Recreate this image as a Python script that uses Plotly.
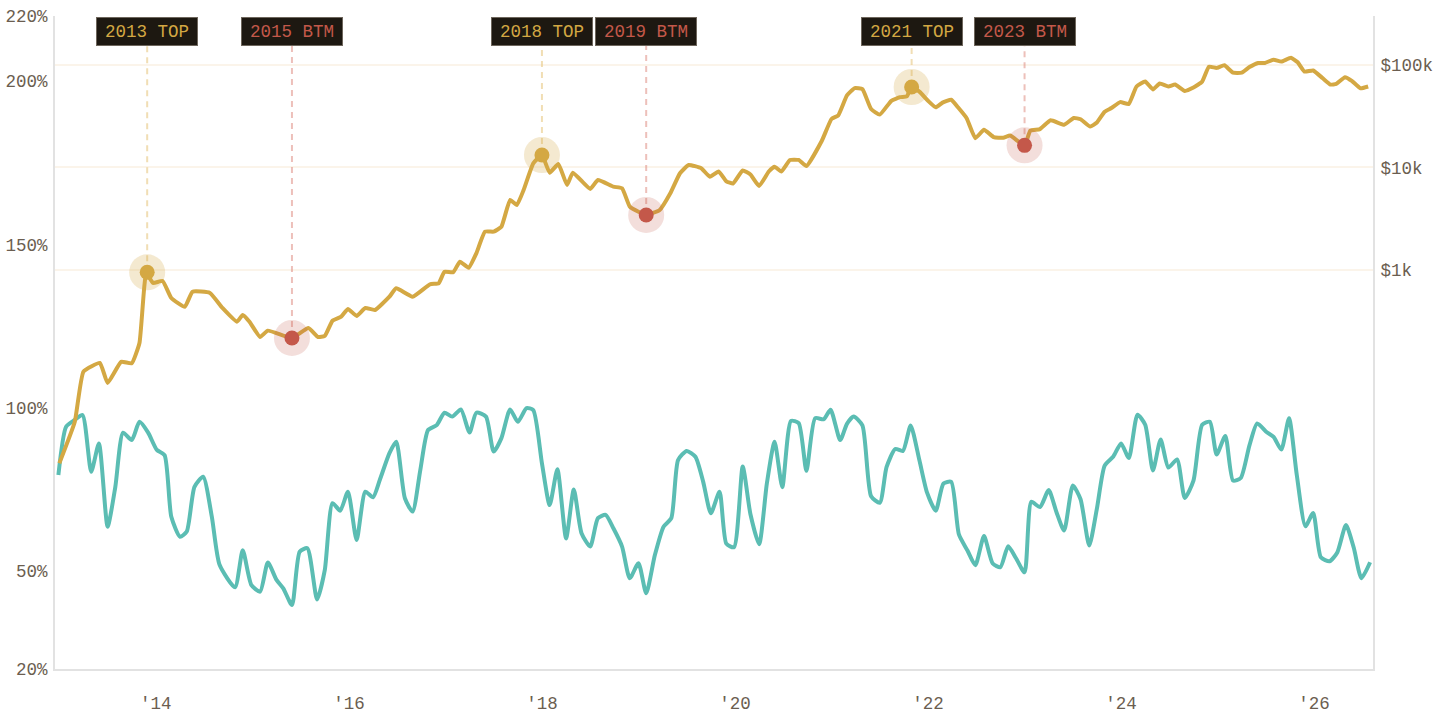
import plotly.graph_objects as go

# ---------------- data ----------------
price_t = [2013.00, 2013.16, 2013.25, 2013.42, 2013.50, 2013.64, 2013.75, 2013.83, 2013.90, 2013.97,
           2014.07, 2014.16, 2014.30, 2014.38, 2014.56, 2014.69, 2014.84, 2014.90, 2014.97, 2015.08,
           2015.16, 2015.41, 2015.58, 2015.68, 2015.75, 2015.83, 2015.92, 2015.99, 2016.08, 2016.17,
           2016.27, 2016.42, 2016.49, 2016.66, 2016.84, 2016.93, 2016.99, 2017.08, 2017.15, 2017.24,
           2017.32, 2017.41, 2017.50, 2017.58, 2017.67, 2017.74, 2017.81, 2017.91, 2018.00, 2018.08,
           2018.17, 2018.26, 2018.32, 2018.50, 2018.58, 2018.74, 2018.83, 2018.91, 2019.00, 2019.08,
           2019.22, 2019.33, 2019.43, 2019.52, 2019.65, 2019.74, 2019.83, 2019.91, 2019.98, 2020.08,
           2020.16, 2020.25, 2020.35, 2020.41, 2020.48, 2020.57, 2020.66, 2020.74, 2020.90, 2021.00,
           2021.07, 2021.16, 2021.24, 2021.32, 2021.41, 2021.50, 2021.62, 2021.71, 2021.78, 2021.83,
           2021.91, 2022.00, 2022.08, 2022.15, 2022.24, 2022.31, 2022.40, 2022.49, 2022.58, 2022.68,
           2022.78, 2022.85, 2023.00, 2023.06, 2023.16, 2023.27, 2023.41, 2023.51, 2023.58, 2023.68,
           2023.75, 2023.83, 2023.90, 2023.99, 2024.08, 2024.16, 2024.25, 2024.33, 2024.40, 2024.49,
           2024.56, 2024.66, 2024.75, 2024.84, 2024.91, 2024.99, 2025.07, 2025.16, 2025.25, 2025.33,
           2025.42, 2025.49, 2025.58, 2025.66, 2025.76, 2025.83, 2025.90, 2025.99, 2026.09, 2026.17,
           2026.23, 2026.32, 2026.39, 2026.48, 2026.56]
price_usd = [13, 33, 102, 124, 79, 127, 123, 194, 929, 747,
             781, 533, 438, 614, 597, 426, 313, 364, 313, 222,
             256, 217, 272, 222, 227, 320, 350, 417, 356, 426,
             407, 549, 663, 549, 725, 742, 962, 950, 1205, 1052,
             1455, 2365, 2365, 2645, 4820, 4305, 6030, 10990, 13240, 8900,
             10820, 6750, 8900, 6170, 7550, 6500, 6270, 4150, 3705, 3440,
             3850, 5600, 8780, 10580, 9820, 8130, 9140, 7330, 6980, 9350,
             8550, 6600, 9140, 10160, 9140, 11840, 11840, 10350, 18250, 29720,
             32290, 50480, 59550, 58070, 37150, 32810, 44770, 48520, 49400, 60990,
             54950, 44770, 38640, 42960, 45830, 38640, 30270, 19320, 23330, 19810,
             19500, 20470, 16440, 22910, 23710, 28870, 26100, 30410, 29580, 25060,
             27480, 35010, 38020, 43450, 41710, 61700, 68870, 57810, 66010, 61700,
             64420, 55860, 60220, 68870, 95950, 93720, 99310, 84140, 84140, 95450,
             104700, 104700, 112700, 108000, 117500, 106200, 86260, 88310, 74140, 64420,
             65420, 76030, 69980, 59290, 61700]

ratio_t = [2012.99, 2013.07, 2013.16, 2013.24, 2013.33, 2013.41, 2013.50, 2013.58, 2013.66, 2013.75,
           2013.83, 2013.92, 2014.01, 2014.09, 2014.16, 2014.25, 2014.32, 2014.40, 2014.49, 2014.58,
           2014.66, 2014.82, 2014.90, 2014.99, 2015.08, 2015.16, 2015.25, 2015.32, 2015.41, 2015.49,
           2015.57, 2015.67, 2015.75, 2015.83, 2015.91, 2015.99, 2016.08, 2016.17, 2016.25, 2016.32,
           2016.42, 2016.49, 2016.58, 2016.66, 2016.74, 2016.82, 2016.91, 2016.99, 2017.07, 2017.16,
           2017.25, 2017.32, 2017.42, 2017.50, 2017.58, 2017.67, 2017.75, 2017.84, 2017.91, 2018.00,
           2018.08, 2018.16, 2018.25, 2018.33, 2018.41, 2018.50, 2018.58, 2018.66, 2018.74, 2018.83,
           2018.91, 2019.00, 2019.08, 2019.17, 2019.26, 2019.34, 2019.41, 2019.50, 2019.59, 2019.67,
           2019.75, 2019.84, 2019.91, 2019.99, 2020.08, 2020.16, 2020.25, 2020.33, 2020.41, 2020.49,
           2020.58, 2020.66, 2020.74, 2020.83, 2020.92, 2020.99, 2021.09, 2021.16, 2021.23, 2021.32,
           2021.41, 2021.50, 2021.57, 2021.66, 2021.74, 2021.82, 2021.91, 2021.99, 2022.08, 2022.16,
           2022.24, 2022.32, 2022.41, 2022.49, 2022.58, 2022.67, 2022.75, 2022.83, 2022.91, 2023.00,
           2023.07, 2023.16, 2023.25, 2023.33, 2023.41, 2023.50, 2023.58, 2023.67, 2023.75, 2023.83,
           2023.92, 2024.00, 2024.08, 2024.17, 2024.25, 2024.33, 2024.41, 2024.49, 2024.58, 2024.66,
           2024.75, 2024.84, 2024.92, 2024.99, 2025.08, 2025.16, 2025.24, 2025.33, 2025.41, 2025.51,
           2025.58, 2025.66, 2025.74, 2025.82, 2025.91, 2025.99, 2026.07, 2026.16, 2026.24, 2026.33,
           2026.41, 2026.49, 2026.58]
ratio_pct = [79.4, 94.2, 96.3, 97.8, 80.4, 89.1, 63.6, 75.8, 92.4, 90.1,
             95.7, 92.4, 87.1, 85.5, 66.6, 60.5, 62.1, 75.8, 78.9, 66.6,
             51.9, 45.0, 56.4, 45.7, 43.7, 52.6, 47.3, 44.7, 39.6, 55.9,
             57.0, 41.3, 50.3, 70.8, 68.5, 74.3, 59.5, 74.3, 72.6, 77.9,
             86.1, 89.6, 72.3, 68.2, 81.0, 93.2, 94.7, 98.5, 97.3, 99.5,
             92.4, 98.5, 97.3, 86.6, 90.7, 99.5, 95.7, 99.9, 99.3, 83.0,
             70.2, 81.2, 60.0, 75.0, 61.6, 57.5, 66.2, 67.2, 63.1, 57.5,
             47.8, 52.4, 43.2, 54.9, 63.6, 66.2, 84.0, 86.8, 85.0, 77.4,
             67.7, 74.3, 58.4, 57.3, 82.0, 67.4, 58.2, 76.8, 89.6, 75.7,
             96.0, 95.3, 80.7, 96.8, 96.5, 99.4, 90.1, 95.1, 97.3, 94.6,
             72.9, 70.9, 81.8, 87.4, 86.8, 94.6, 84.0, 74.0, 68.5, 76.8,
             77.3, 61.2, 56.2, 51.8, 60.7, 52.3, 51.2, 57.6, 54.0, 49.6,
             71.2, 69.6, 74.8, 68.1, 62.4, 76.2, 72.0, 57.8, 69.2, 82.3,
             85.1, 89.1, 84.6, 97.9, 94.8, 80.8, 90.3, 81.7, 84.2, 72.4,
             77.7, 94.8, 95.7, 85.7, 91.4, 77.7, 78.5, 88.5, 95.2, 92.5,
             91.1, 87.2, 96.8, 79.5, 63.7, 67.8, 54.2, 53.0, 55.7, 64.1,
             57.2, 47.8, 52.7]

event_labels = ["2013 TOP", "2015 BTM", "2018 TOP", "2019 BTM", "2021 TOP", "2023 BTM"]
event_t = [2013.91, 2015.41, 2018.00, 2019.08, 2021.83, 2023.00]
event_usd = [950, 217, 13240, 3440, 61000, 16440]
event_kind = ["top", "btm", "top", "btm", "top", "btm"]

left_ticks = [20, 50, 100, 150, 200, 220]
left_ticktext = ["20%", "50%", "100%", "150%", "200%", "220%"]
right_ticks = [1000, 10000, 100000]
right_ticktext = ["$1k", "$10k", "$100k"]
x_ticks = [2014, 2016, 2018, 2020, 2022, 2024, 2026]
x_ticktext = ["'14", "'16", "'18", "'20", "'22", "'24", "'26"]

# ---------------- style ----------------
FONT = "Liberation Mono"
TXT = "#6b5e50"
GOLD = "#d4a843"
TEAL = "#5bbdb3"
RED = "#c4584a"
AXIS = "#e2e2e2"
GRID = "#fbf4ea"
LABEL_TOP_Y = 0.9755          # label centre in paper coords
LABEL_BASE_USD = 153000       # where dashed leaders end (just under the labels)

fig = go.Figure()

fig.add_trace(go.Scatter(
    x=ratio_t, y=ratio_pct, mode="lines", yaxis="y",
    line=dict(color=TEAL, width=4, shape="spline", smoothing=0.6),
    hoverinfo="skip", showlegend=False))

# dashed leaders
for t, p, k in zip(event_t, event_usd, event_kind):
    c = "rgba(232,200,130,0.6)" if k == "top" else "rgba(222,140,130,0.55)"
    fig.add_trace(go.Scatter(
        x=[t, t], y=[p, LABEL_BASE_USD], mode="lines", yaxis="y2",
        line=dict(color=c, width=2, dash="6px,5px"),
        hoverinfo="skip", showlegend=False))

fig.add_trace(go.Scatter(
    x=price_t, y=price_usd, mode="lines", yaxis="y2",
    line=dict(color=GOLD, width=4, shape="spline", smoothing=0.4),
    hoverinfo="skip", showlegend=False))

# halos and markers
halo_colors = ["rgba(212,168,67,0.25)" if k == "top" else "rgba(196,88,74,0.2)" for k in event_kind]
dot_colors = [GOLD if k == "top" else RED for k in event_kind]
fig.add_trace(go.Scatter(
    x=event_t, y=event_usd, mode="markers", yaxis="y2",
    marker=dict(size=36, color=halo_colors, line=dict(width=0)),
    hoverinfo="skip", showlegend=False))
fig.add_trace(go.Scatter(
    x=event_t, y=event_usd, mode="markers", yaxis="y2",
    marker=dict(size=15, color=dot_colors, line=dict(width=0)),
    hoverinfo="skip", showlegend=False))

annotations = []
for lab, t, k in zip(event_labels, event_t, event_kind):
    annotations.append(dict(
        x=t, xref="x", y=LABEL_TOP_Y, yref="paper", text=lab, showarrow=False,
        font=dict(family=FONT, size=17.5, color=GOLD if k == "top" else RED),
        bgcolor="#1d1811", bordercolor="#6e665c", borderwidth=1, borderpad=3,
        width=94, height=21, xanchor="center", yanchor="middle"))

fig.update_layout(
    width=1440, height=720,
    margin=dict(l=55, r=67, t=16, b=51),
    paper_bgcolor="white", plot_bgcolor="white",
    font=dict(family=FONT, size=17.5, color=TXT),
    annotations=annotations,
    xaxis=dict(range=[2012.955, 2026.61], tickvals=x_ticks, ticktext=x_ticktext,
               showgrid=False, zeroline=False, showline=True, linecolor=AXIS, linewidth=2,
               automargin=False,
               ticks="", ticklabelstandoff=17, tickfont=dict(family=FONT, size=17.5, color=TXT)),
    yaxis=dict(range=[20, 220], tickvals=left_ticks, ticktext=left_ticktext,
               showgrid=False, zeroline=False, showline=True, linecolor=AXIS, linewidth=2,
               automargin=False,
               ticks="", ticklabelstandoff=2, tickfont=dict(family=FONT, size=17.5, color=TXT)),
    yaxis2=dict(type="log", range=[-0.893, 5.478], overlaying="y", side="right",
                tickvals=right_ticks, ticktext=right_ticktext,
                showgrid=True, gridcolor=GRID, gridwidth=1.5, zeroline=False,
                showline=True, linecolor=AXIS, linewidth=2, automargin=False,
                ticks="", ticklabelstandoff=2, tickfont=dict(family=FONT, size=17.5, color=TXT)),
)

fig.write_html("out.html")
